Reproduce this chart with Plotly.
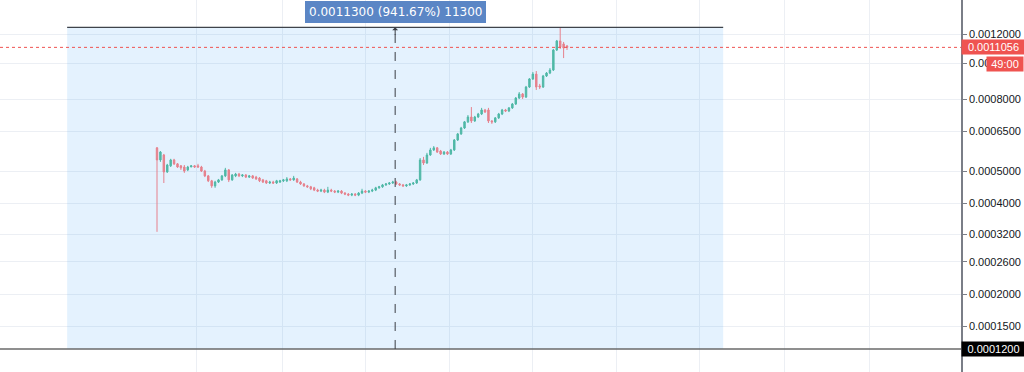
import numpy as np
import plotly.graph_objects as go

# ---------------- data (prices) ----------------
open_p = [0.000584, 0.000539, 0.000557, 0.000497, 0.000518, 0.000539, 0.000525, 0.000518, 0.000514, 0.000504,
          0.000514, 0.000518, 0.000518, 0.000514, 0.000500, 0.000484, 0.000468, 0.000452, 0.000464, 0.000471,
          0.000484, 0.000504, 0.000471, 0.000484, 0.000490, 0.000484, 0.000487, 0.000480, 0.000484, 0.000480,
          0.000477, 0.000471, 0.000468, 0.000461, 0.000464, 0.000461, 0.000464, 0.000468, 0.000468, 0.000474,
          0.000471, 0.000474, 0.000464, 0.000458, 0.000452, 0.000449, 0.000446, 0.000439, 0.000436, 0.000439,
          0.000433, 0.000439, 0.000436, 0.000433, 0.000436, 0.000430, 0.000427, 0.000424, 0.000427, 0.000424,
          0.000430, 0.000436, 0.000433, 0.000436, 0.000439, 0.000446, 0.000449, 0.000455, 0.000458, 0.000461,
          0.000464, 0.000458, 0.000455, 0.000452, 0.000455, 0.000458, 0.000461, 0.000471, 0.000539, 0.000528,
          0.000557, 0.000576, 0.000584, 0.000572, 0.000561, 0.000568, 0.000561, 0.000576, 0.000615, 0.000640,
          0.000665, 0.000692, 0.000714, 0.000696, 0.000714, 0.000728, 0.000747, 0.000747, 0.000696, 0.000692,
          0.000710, 0.000728, 0.000747, 0.000742, 0.000757, 0.000776, 0.000806, 0.000827, 0.000811, 0.000864,
          0.000909, 0.000937, 0.000870, 0.000864, 0.000926, 0.000943, 0.000961, 0.001088, 0.001150, 0.001129,
          0.001115]

high_p = [0.000587, 0.000572, 0.000561, 0.000525, 0.000543, 0.000543, 0.000528, 0.000521, 0.000521, 0.000518,
          0.000521, 0.000521, 0.000525, 0.000518, 0.000504, 0.000487, 0.000471, 0.000468, 0.000474, 0.000487,
          0.000511, 0.000507, 0.000490, 0.000494, 0.000494, 0.000490, 0.000490, 0.000487, 0.000487, 0.000484,
          0.000480, 0.000474, 0.000471, 0.000468, 0.000468, 0.000471, 0.000471, 0.000474, 0.000480, 0.000477,
          0.000484, 0.000477, 0.000468, 0.000461, 0.000455, 0.000452, 0.000449, 0.000443, 0.000443, 0.000443,
          0.000449, 0.000443, 0.000439, 0.000439, 0.000439, 0.000433, 0.000430, 0.000430, 0.000430, 0.000433,
          0.000443, 0.000439, 0.000439, 0.000443, 0.000449, 0.000452, 0.000458, 0.000461, 0.000464, 0.000468,
          0.000468, 0.000461, 0.000458, 0.000458, 0.000461, 0.000464, 0.000474, 0.000546, 0.000550, 0.000565,
          0.000584, 0.000591, 0.000587, 0.000576, 0.000572, 0.000572, 0.000580, 0.000619, 0.000644, 0.000670,
          0.000696, 0.000723, 0.000761, 0.000719, 0.000733, 0.000757, 0.000752, 0.000757, 0.000700, 0.000714,
          0.000733, 0.000752, 0.000752, 0.000761, 0.000781, 0.000811, 0.000837, 0.000832, 0.000870, 0.000914,
          0.000949, 0.000955, 0.000881, 0.000932, 0.000949, 0.000973, 0.001095, 0.001157, 0.001252, 0.001143,
          0.001122]

low_p = [0.000326, 0.000532, 0.000461, 0.000494, 0.000514, 0.000521, 0.000511, 0.000504, 0.000494, 0.000500,
         0.000514, 0.000511, 0.000511, 0.000497, 0.000480, 0.000464, 0.000446, 0.000446, 0.000461, 0.000468,
         0.000480, 0.000464, 0.000468, 0.000480, 0.000480, 0.000480, 0.000477, 0.000477, 0.000474, 0.000471,
         0.000464, 0.000461, 0.000458, 0.000458, 0.000458, 0.000458, 0.000461, 0.000464, 0.000464, 0.000468,
         0.000468, 0.000461, 0.000455, 0.000449, 0.000446, 0.000439, 0.000436, 0.000433, 0.000433, 0.000430,
         0.000430, 0.000433, 0.000430, 0.000430, 0.000427, 0.000424, 0.000421, 0.000421, 0.000421, 0.000421,
         0.000427, 0.000430, 0.000430, 0.000433, 0.000436, 0.000443, 0.000446, 0.000452, 0.000455, 0.000458,
         0.000455, 0.000452, 0.000449, 0.000449, 0.000452, 0.000455, 0.000458, 0.000468, 0.000521, 0.000525,
         0.000554, 0.000572, 0.000565, 0.000557, 0.000557, 0.000557, 0.000557, 0.000572, 0.000611, 0.000636,
         0.000661, 0.000687, 0.000687, 0.000692, 0.000710, 0.000723, 0.000733, 0.000687, 0.000683, 0.000687,
         0.000705, 0.000723, 0.000737, 0.000737, 0.000752, 0.000771, 0.000801, 0.000801, 0.000806, 0.000859,
         0.000903, 0.000848, 0.000853, 0.000859, 0.000920, 0.000937, 0.000955, 0.001081, 0.001095, 0.001035,
         0.001088]

close_p = [0.000539, 0.000568, 0.000497, 0.000521, 0.000539, 0.000525, 0.000514, 0.000511, 0.000500, 0.000514,
           0.000518, 0.000514, 0.000514, 0.000500, 0.000484, 0.000468, 0.000452, 0.000464, 0.000471, 0.000484,
           0.000504, 0.000471, 0.000487, 0.000490, 0.000484, 0.000487, 0.000480, 0.000484, 0.000477, 0.000474,
           0.000468, 0.000464, 0.000461, 0.000464, 0.000461, 0.000468, 0.000468, 0.000471, 0.000474, 0.000471,
           0.000477, 0.000464, 0.000458, 0.000452, 0.000449, 0.000443, 0.000439, 0.000436, 0.000439, 0.000433,
           0.000439, 0.000436, 0.000433, 0.000436, 0.000430, 0.000427, 0.000424, 0.000427, 0.000424, 0.000430,
           0.000436, 0.000433, 0.000436, 0.000439, 0.000446, 0.000449, 0.000455, 0.000458, 0.000461, 0.000464,
           0.000458, 0.000455, 0.000452, 0.000455, 0.000458, 0.000461, 0.000471, 0.000539, 0.000528, 0.000557,
           0.000576, 0.000584, 0.000568, 0.000561, 0.000568, 0.000561, 0.000576, 0.000615, 0.000640, 0.000665,
           0.000692, 0.000714, 0.000696, 0.000714, 0.000728, 0.000747, 0.000737, 0.000696, 0.000692, 0.000710,
           0.000728, 0.000747, 0.000742, 0.000757, 0.000776, 0.000806, 0.000827, 0.000811, 0.000864, 0.000909,
           0.000937, 0.000864, 0.000864, 0.000926, 0.000943, 0.000961, 0.001088, 0.001150, 0.001108, 0.001101,
           0.0011056]

bar_index = list(range(len(close_p)))

tick_prices = [0.0015, 0.0012, 0.0010, 0.0008, 0.00065, 0.0005, 0.0004, 0.00032, 0.00026, 0.0002, 0.00015]
tick_labels = ["0.0015000", "0.0012000", "0.0010000", "0.0008000", "0.0006500", "0.0005000",
               "0.0004000", "0.0003200", "0.0002600", "0.0002000", "0.0001500"]

last_price = 0.0011056
last_price_label = "0.0011056"
countdown_label = "49:00"
cursor_price = 0.00012
cursor_price_label = "0.0001200"

measure_low = 0.00012
measure_high = 0.00125
measure_start_bar = -26.3
measure_end_bar = 165.7
measure_mid_bar = 69.7
measure_text = "0.0011300 (941.67%) 11300"

grid_bars = [11.7, 36.6, 60.9, 85.5, 109.8, 134.6, 158.9, 183.5, 208.4]

# ---------------- TradingView-style log price scale ----------------
LOG_OFFSET = 0.0001


def tv_log(p):
    return np.log10(np.asarray(p, dtype=float) + LOG_OFFSET)


y_top = float(tv_log(0.0012)) + 34 / 408.27
y_bottom = float(tv_log(0.0012)) - 338 / 408.27

UP = "#4fb8a6"
DOWN = "#e6808c"

fig = go.Figure()
fig.add_trace(go.Candlestick(
    x=bar_index,
    open=tv_log(open_p), high=tv_log(high_p), low=tv_log(low_p), close=tv_log(close_p),
    increasing=dict(line=dict(color=UP, width=1), fillcolor=UP),
    decreasing=dict(line=dict(color=DOWN, width=1), fillcolor=DOWN),
    whiskerwidth=0,
    hoverinfo="skip",
))

shapes = [
    # measurement rectangle
    dict(type="rect", xref="x", yref="y", x0=measure_start_bar, x1=measure_end_bar,
         y0=float(tv_log(measure_low)), y1=float(tv_log(measure_high)),
         fillcolor="rgba(33,150,243,0.12)", line=dict(width=0), layer="between"),
    # top border of measurement
    dict(type="line", xref="x", yref="y", x0=measure_start_bar, x1=measure_end_bar,
         y0=float(tv_log(measure_high)), y1=float(tv_log(measure_high)),
         line=dict(color="#3f434a", width=1.2), layer="above"),
    # horizontal cursor line
    dict(type="line", xref="paper", yref="y", x0=0, x1=1,
         y0=float(tv_log(cursor_price)), y1=float(tv_log(cursor_price)),
         line=dict(color="#6a6a6a", width=1.5), layer="above"),
    # vertical dashed line
    dict(type="line", xref="x", yref="y", x0=measure_mid_bar, x1=measure_mid_bar,
         y0=float(tv_log(measure_low)), y1=float(tv_log(measure_high)),
         line=dict(color="#3a3d44", width=1, dash="dash"), layer="above"),
    # last price dotted line
    dict(type="line", xref="paper", yref="y", x0=0, x1=1,
         y0=float(tv_log(last_price)), y1=float(tv_log(last_price)),
         line=dict(color="#ef5350", width=1, dash="dot"), layer="above"),
]

annotations = [
    dict(x=measure_mid_bar, xref="x", y=1 - 12 / 372, yref="paper", text=measure_text,
         showarrow=False, bgcolor="#5b86c5", bordercolor="#5b86c5", borderpad=3,
         font=dict(family="DejaVu Sans", size=12, color="white"), xanchor="center", yanchor="middle"),
    dict(x=measure_mid_bar, xref="x", y=float(tv_log(measure_high)), yref="y", text="",
         showarrow=True, ax=0, ay=9, arrowhead=1, arrowsize=1, arrowwidth=1, arrowcolor="#3a3d44"),
    dict(x=1, xref="paper", y=float(tv_log(last_price)), yref="y", text=last_price_label,
         showarrow=False, bgcolor="#ef5350", borderpad=1, width=61, align="center",
         font=dict(family="Liberation Sans", size=11, color="white"), xanchor="left", yanchor="middle"),
    dict(x=1024 / 961, xref="paper", y=1 - 64 / 372, yref="paper", text=countdown_label,
         showarrow=False, bgcolor="#ef5350", borderpad=1, width=34, align="center",
         font=dict(family="Liberation Sans", size=11, color="white"), xanchor="right", yanchor="middle"),
    dict(x=1, xref="paper", y=float(tv_log(cursor_price)), yref="y", text=cursor_price_label,
         showarrow=False, bgcolor="#000000", borderpad=1, width=61, align="center",
         font=dict(family="Liberation Sans", size=11, color="white"), xanchor="left", yanchor="middle"),
]

fig.update_layout(
    width=1024, height=372,
    margin=dict(l=0, r=63, t=0, b=0),
    plot_bgcolor="white", paper_bgcolor="white",
    showlegend=False,
    boxgap=0.4,
    shapes=shapes,
    annotations=annotations,
    hovermode=False,
)
fig.update_xaxes(
    range=[-45.95, 235.3], tickvals=grid_bars, showticklabels=False, ticks="",
    showgrid=True, gridcolor="#eceff4", gridwidth=1, zeroline=False, showline=False,
    rangeslider=dict(visible=False), fixedrange=True,
)
fig.update_yaxes(
    side="right", range=[y_bottom, y_top],
    tickvals=[float(v) for v in tv_log(tick_prices)], ticktext=tick_labels,
    ticks="outside", ticklen=4, tickcolor="#7a7e87",
    showline=True, linecolor="#7a7e87", linewidth=1.5,
    showgrid=True, gridcolor="#eceff4", gridwidth=1, zeroline=False,
    tickfont=dict(family="Liberation Sans", size=11, color="#131722"),
    fixedrange=True,
)

fig.write_html(
    "out.html",
    config={"displayModeBar": False},
    post_script="document.body.style.margin='0';document.body.style.overflow='hidden';",
)
